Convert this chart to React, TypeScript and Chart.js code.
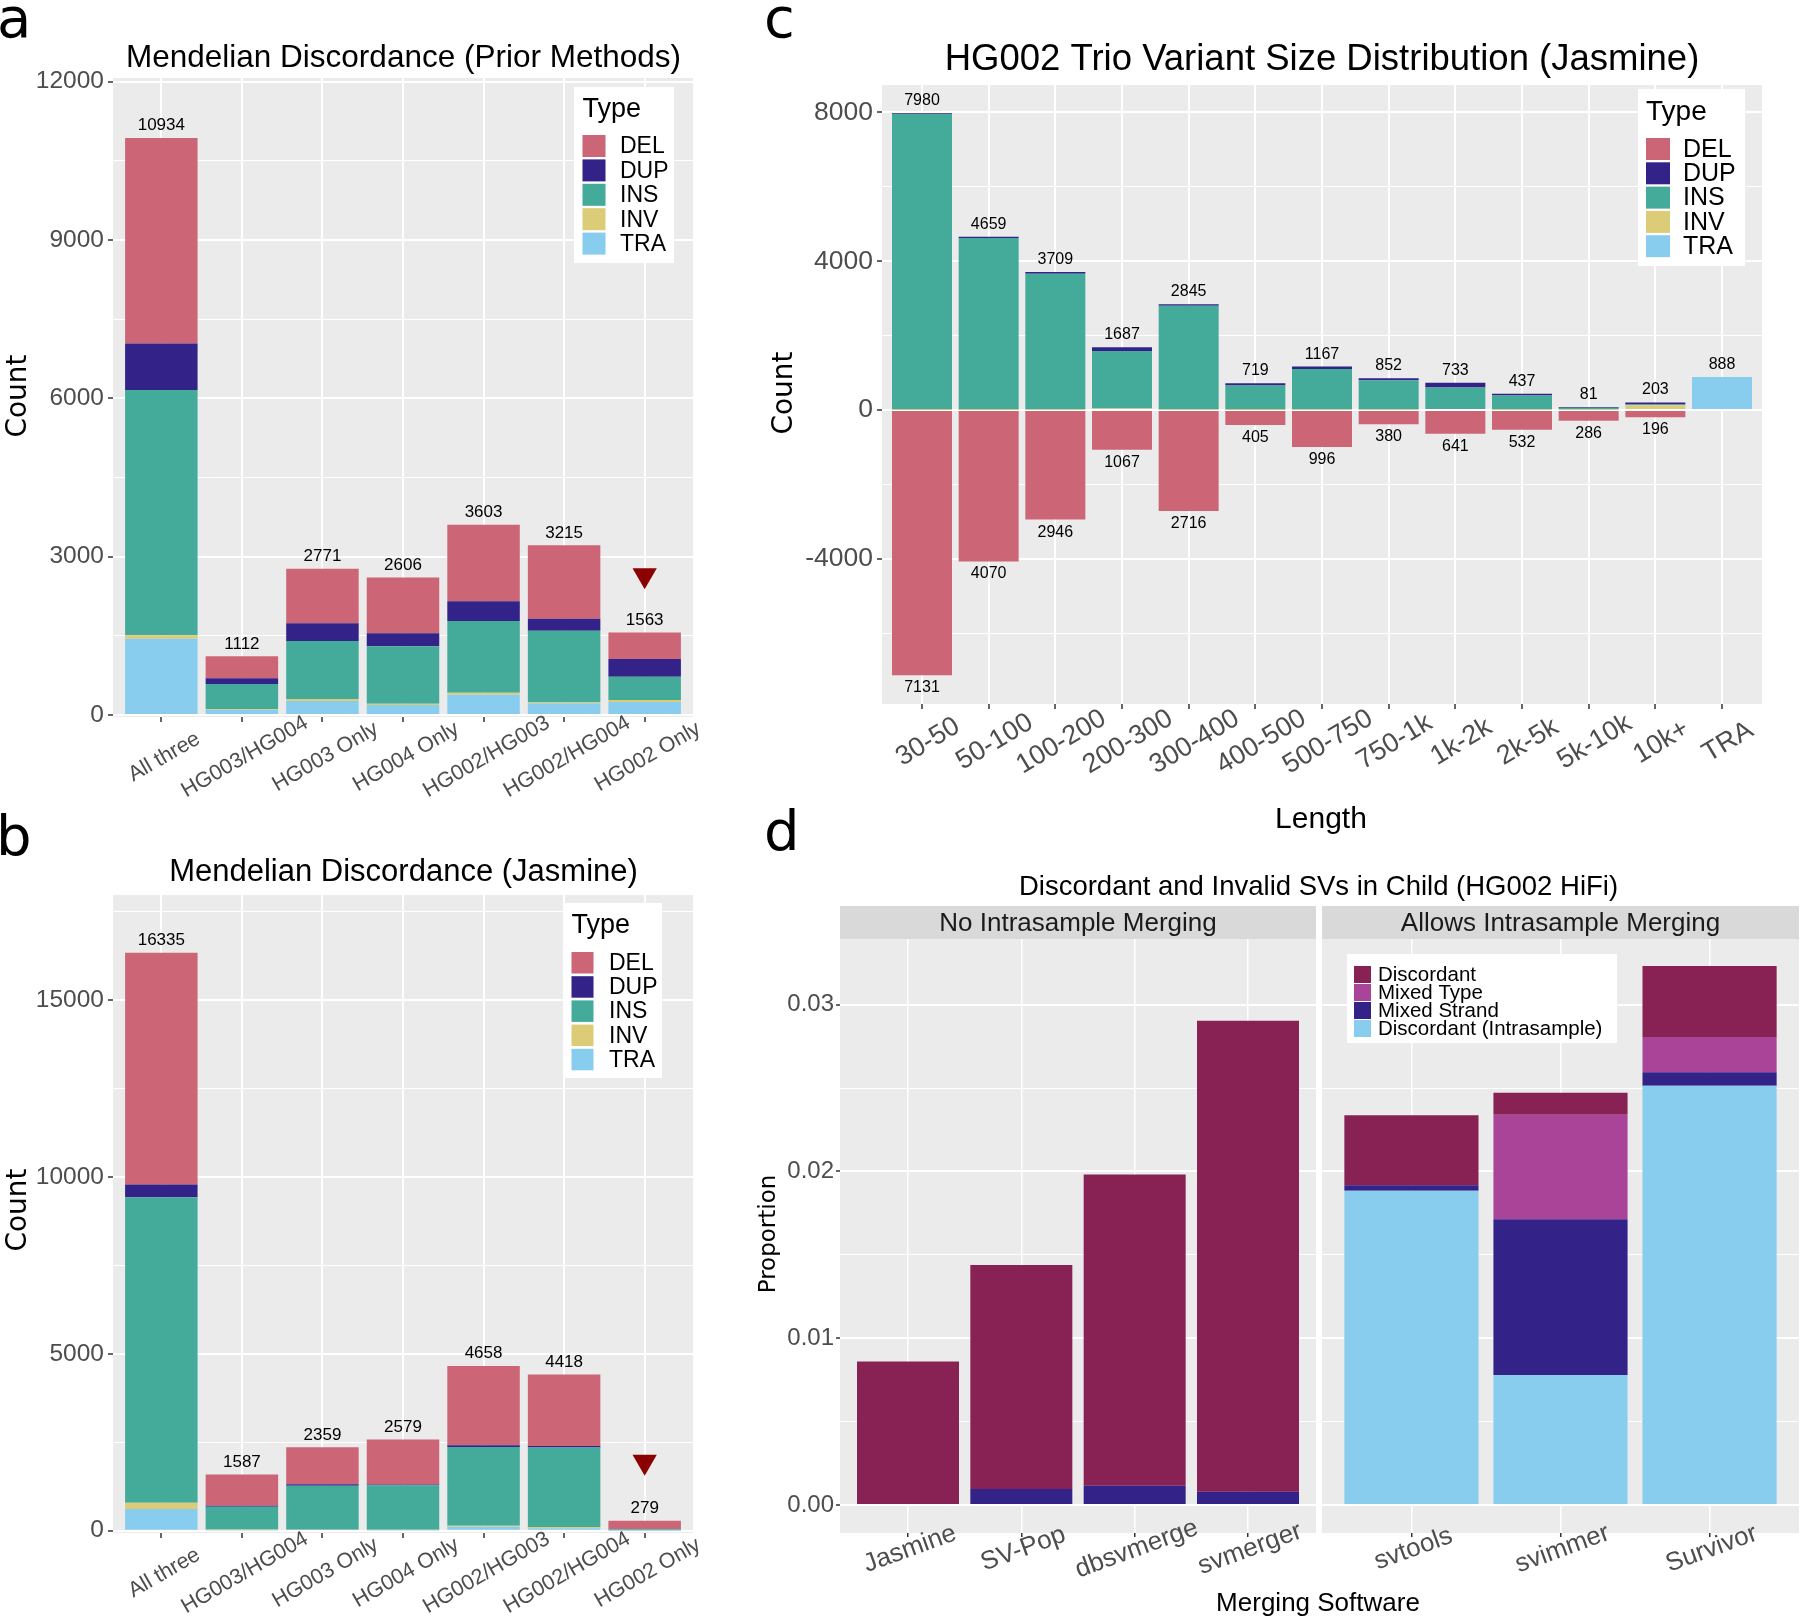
import { useEffect, useRef } from 'react';
import { Chart, registerables } from 'chart.js';

Chart.register(...registerables);

// ---------------- data ----------------
const mendelianCategories = ['All three', 'HG003/HG004', 'HG003 Only', 'HG004 Only', 'HG002/HG003', 'HG002/HG004', 'HG002 Only'];
const typeLabels = ['DEL', 'DUP', 'INS', 'INV', 'TRA'];
const typeColors = ['#CC6677', '#332288', '#44AA99', '#DDCC77', '#88CCEE'];

// panel a: Mendelian discordance (prior methods)
const priorDEL = [3897, 417, 1034, 1059, 1449, 1390, 502];
const priorDUP = [878, 108, 335, 246, 373, 227, 335];
const priorINS = [4649, 480, 1099, 1086, 1358, 1352, 442];
const priorINV = [64, 12, 38, 26, 38, 25, 38];
const priorTRA = [1446, 95, 265, 189, 385, 221, 246];
const priorFlagValue = 2650;

// panel b: Mendelian discordance (Jasmine)
const jasmineDEL = [6553, 879, 1048, 1276, 2243, 2022, 229];
const jasmineDUP = [359, 29, 37, 20, 47, 47, 10];
const jasmineINS = [8631, 644, 1244, 1253, 2226, 2245, 30];
const jasmineINV = [179, 25, 10, 15, 29, 38, 5];
const jasmineTRA = [613, 10, 20, 15, 113, 66, 5];
const jasmineFlagValue = 1950;
const flaggedCategoryIndex = 6;

// panel c: size distribution
const sizeCategories = ['30-50', '50-100', '100-200', '200-300', '300-400', '400-500', '500-750', '750-1k', '1k-2k', '2k-5k', '5k-10k', '10k+', 'TRA'];
const sizeDEL = [-7131, -4070, -2946, -1067, -2716, -405, -996, -380, -641, -532, -286, -196, 0];
const sizeDUP = [20, 35, 45, 100, 45, 58, 65, 55, 125, 45, 20, 55, 0];
const sizeINS = [7950, 4615, 3650, 1545, 2785, 652, 1090, 785, 580, 375, 45, 20, 0];
const sizeINV = [10, 9, 14, 42, 15, 9, 12, 12, 28, 17, 16, 128, 0];
const sizeTRA = [0, 0, 0, 0, 0, 0, 0, 0, 0, 0, 0, 0, 888];

// panel d: discordant / invalid SVs
const mergerGroups = ['No Intrasample Merging', 'Allows Intrasample Merging'];
const mergerLeft = ['Jasmine', 'SV-Pop', 'dbsvmerge', 'svmerger'];
const mergerRight = ['svtools', 'svimmer', 'Survivor'];
const errorLabels = ['Discordant', 'Mixed Type', 'Mixed Strand', 'Discordant (Intrasample)'];
const errorColors = ['#882255', '#AA4499', '#332288', '#88CCEE'];
const leftDiscordant = [0.0086, 0.01343, 0.01866, 0.02823];
const leftMixedType = [0, 0, 0, 0];
const leftMixedStrand = [0, 0.00096, 0.00116, 0.0008];
const leftIntrasample = [0, 0, 0, 0];
const rightDiscordant = [0.00419, 0.00132, 0.00425];
const rightMixedType = [0, 0.00627, 0.00212];
const rightMixedStrand = [0.00033, 0.00934, 0.0008];
const rightIntrasample = [0.01884, 0.00779, 0.02514];

// axis ticks
const priorTicksMajor = [0, 3000, 6000, 9000, 12000];
const priorTicksMinor = [1500, 4500, 7500, 10500];
const jasmineTicksMajor = [0, 5000, 10000, 15000];
const jasmineTicksMinor = [2500, 7500, 12500, 17500];
const sizeTicksMajor = [-4000, 0, 4000, 8000];
const sizeTicksMinor = [-6000, -2000, 2000, 6000];
const propTicksMajor = [0, 0.01, 0.02, 0.03];
const propTicksMinor = [0.005, 0.015, 0.025];

// ---------------- styling / layout ----------------
const SANS = '"Liberation Sans", Arial, Helvetica, sans-serif';
const DEJAVU = '"DejaVu Sans", Verdana, sans-serif';
const PAGE_W = 1800;
const PAGE_H = 1618;
const AXIS_H = 10;
const PANEL_BG = '#EBEBEB';
const AXIS_TEXT = '#4D4D4D';
const FLAG_COLOR = '#8B0000';

type Area = { l: number; r: number; t: number; b: number };

function layoutPadding(a: Area) {
  // the y scale box takes the whole width left of the plot area
  return { left: 0, right: PAGE_W - a.r, top: a.t, bottom: PAGE_H - a.b - AXIS_H };
}

function isIn(list: number[], v: number) {
  return list.some((m) => Math.abs(m - v) < 1e-9);
}

type TextOpts = {
  size: number;
  family?: string;
  color?: string;
  align?: CanvasTextAlign;
  baseline?: CanvasTextBaseline;
  rotate?: number;
};

function txt(ctx: CanvasRenderingContext2D, s: string, x: number, y: number, o: TextOpts) {
  ctx.save();
  ctx.translate(x, y);
  if (o.rotate) ctx.rotate(o.rotate);
  ctx.font = `${o.size}px ${o.family || SANS}`;
  ctx.fillStyle = o.color || '#000000';
  ctx.textAlign = o.align || 'center';
  ctx.textBaseline = o.baseline || 'alphabetic';
  ctx.fillText(s, 0, 0);
  ctx.restore();
}

type LegendSpec = {
  box: [number, number, number, number];
  title?: { text: string; x: number; y: number; size: number };
  keyX: number;
  keyTop: number;
  keyW: number;
  keyH: number;
  pitch: number;
  labelX: number;
  labelSize: number;
};

function drawLegend(ctx: CanvasRenderingContext2D, spec: LegendSpec, labels: string[], colors: string[]) {
  ctx.save();
  ctx.fillStyle = '#FFFFFF';
  ctx.fillRect(spec.box[0], spec.box[1], spec.box[2], spec.box[3]);
  ctx.restore();
  if (spec.title) txt(ctx, spec.title.text, spec.title.x, spec.title.y, { size: spec.title.size, align: 'left' });
  labels.forEach((lab, k) => {
    const top = spec.keyTop + k * spec.pitch;
    ctx.save();
    ctx.fillStyle = colors[k];
    ctx.fillRect(spec.keyX, top, spec.keyW, spec.keyH);
    ctx.restore();
    txt(ctx, lab, spec.labelX, top + spec.keyH / 2 + 1, { size: spec.labelSize, align: 'left', baseline: 'middle' });
  });
}

function drawCategoryLabels(chart: any, labels: string[], dx: number, dy: number, angleDeg: number, size: number) {
  const ctx = chart.ctx as CanvasRenderingContext2D;
  const xs = chart.scales.x;
  const bottom = chart.chartArea.bottom;
  labels.forEach((lab, i) => {
    txt(ctx, lab, xs.getPixelForValue(i) + dx, bottom + dy, {
      size,
      color: AXIS_TEXT,
      align: 'center',
      baseline: 'middle',
      rotate: (-angleDeg * Math.PI) / 180,
    });
  });
}

const panelBackground = {
  id: 'panelBackground',
  beforeDraw(chart: any) {
    const { ctx, chartArea: a } = chart;
    ctx.save();
    ctx.fillStyle = PANEL_BG;
    ctx.fillRect(a.left, a.top, a.right - a.left, a.bottom - a.top);
    ctx.restore();
  },
};

function yScale(o: {
  area: Area;
  min: number;
  max: number;
  majors: number[];
  minors: number[];
  fmt: (v: number) => string;
  fontSize: number;
  tickLength: number;
  padding: number;
  showLabels: boolean;
}) {
  const all = [...o.minors, ...o.majors].sort((a, b) => a - b);
  return {
    type: 'linear',
    stacked: true,
    min: o.min,
    max: o.max,
    bounds: 'data',
    beginAtZero: false,
    afterBuildTicks: (s: any) => {
      s.ticks = all.map((v) => ({ value: v }));
    },
    afterFit: (s: any) => {
      s.width = o.area.l;
    },
    ticks: {
      display: o.showLabels,
      autoSkip: false,
      padding: o.padding,
      color: AXIS_TEXT,
      font: { family: SANS, size: o.fontSize },
      callback: (v: any) => (isIn(o.majors, Number(v)) ? o.fmt(Number(v)) : ''),
    },
    grid: {
      display: true,
      drawOnChartArea: true,
      drawTicks: o.showLabels,
      tickLength: o.tickLength,
      color: '#FFFFFF',
      lineWidth: (c: any) => (c.tick && isIn(o.majors, c.tick.value) ? 2 : 1),
      tickColor: (c: any) => (c.tick && isIn(o.majors, c.tick.value) ? '#333333' : 'rgba(0,0,0,0)'),
      tickWidth: 1.5,
    },
    border: { display: false },
  };
}

function xScale(n: number, tickLength: number, gridWidth: number) {
  const idx = Array.from({ length: n }, (_, i) => i);
  return {
    type: 'linear',
    stacked: true,
    min: -0.6,
    max: n - 0.4,
    offset: false,
    bounds: 'data',
    afterBuildTicks: (s: any) => {
      s.ticks = idx.map((v) => ({ value: v }));
    },
    afterFit: (s: any) => {
      s.height = AXIS_H;
    },
    ticks: { display: false, autoSkip: false },
    grid: {
      display: true,
      offset: false,
      color: '#FFFFFF',
      lineWidth: gridWidth,
      drawTicks: true,
      tickLength,
      tickColor: '#333333',
      tickWidth: 1.5,
    },
    border: { display: false },
  };
}

function barSet(label: string, values: number[], color: string) {
  return {
    type: 'bar',
    label,
    data: values.map((v, i) => ({ x: i, y: v })),
    backgroundColor: color,
    borderWidth: 0,
    categoryPercentage: 0.9,
    barPercentage: 1,
    stack: 'bars',
  };
}

function baseOptions(area: Area, scales: any) {
  return {
    responsive: false,
    animation: false,
    devicePixelRatio: 1,
    events: [],
    layout: { padding: layoutPadding(area) },
    plugins: { legend: { display: false }, tooltip: { enabled: false }, title: { display: false } },
    scales,
  };
}

// ---------------- panel a / b ----------------
type MendelianParams = {
  id: string;
  area: Area;
  min: number;
  max: number;
  majors: number[];
  minors: number[];
  del: number[];
  dup: number[];
  ins: number[];
  inv: number[];
  tra: number[];
  flag: number;
  title: string;
  titleY: number;
  titleSize: number;
  letter: string;
  letterX: number;
  letterY: number;
  countY: number;
  legend: LegendSpec;
};

function buildMendelian(canvas: HTMLCanvasElement, p: MendelianParams) {
  const byType = [p.del, p.dup, p.ins, p.inv, p.tra];
  const datasets: any[] = [];
  for (let k = byType.length - 1; k >= 0; k--) datasets.push(barSet(typeLabels[k], byType[k], typeColors[k]));
  datasets.push({
    type: 'scatter',
    label: 'flag',
    data: [{ x: flaggedCategoryIndex, y: p.flag }],
    pointStyle: 'triangle',
    pointRotation: 180,
    rotation: 180,
    pointRadius: 14,
    radius: 14,
    pointBackgroundColor: FLAG_COLOR,
    backgroundColor: FLAG_COLOR,
    pointBorderWidth: 0,
    borderWidth: 0,
    stack: 'flag',
  });
  const totals = mendelianCategories.map((_, i) => byType.reduce((s, arr) => s + arr[i], 0));
  const overlay = {
    id: 'overlay_' + p.id,
    afterDraw(chart: any) {
      const ctx = chart.ctx as CanvasRenderingContext2D;
      const xs = chart.scales.x;
      const ys = chart.scales.y;
      totals.forEach((t, i) => {
        txt(ctx, String(t), xs.getPixelForValue(i), ys.getPixelForValue(t) - 7.5, { size: 17 });
      });
      drawCategoryLabels(chart, mendelianCategories, 3, 40, 30, 21.5);
      txt(ctx, p.title, (p.area.l + p.area.r) / 2 + 0.5, p.titleY, { size: p.titleSize });
      txt(ctx, p.letter, p.letterX, p.letterY, { size: 56, family: DEJAVU, align: 'left' });
      txt(ctx, 'Count', 26, p.countY, { size: 28, family: DEJAVU, rotate: -Math.PI / 2 });
      drawLegend(ctx, p.legend, typeLabels, typeColors);
    },
  };
  return new Chart(canvas, {
    type: 'bar',
    data: { datasets },
    options: baseOptions(p.area, {
      x: xScale(mendelianCategories.length, 5, 2),
      y: yScale({
        area: p.area,
        min: p.min,
        max: p.max,
        majors: p.majors,
        minors: p.minors,
        fmt: (v) => String(v),
        fontSize: 24.5,
        tickLength: 5,
        padding: 4,
        showLabels: true,
      }),
    }),
    plugins: [panelBackground, overlay],
  } as any);
}

const panelA: MendelianParams = {
  id: 'a',
  area: { l: 113, r: 693, t: 78, b: 717 },
  min: -38,
  max: 12070,
  majors: priorTicksMajor,
  minors: priorTicksMinor,
  del: priorDEL,
  dup: priorDUP,
  ins: priorINS,
  inv: priorINV,
  tra: priorTRA,
  flag: priorFlagValue,
  title: 'Mendelian Discordance (Prior Methods)',
  titleY: 67,
  titleSize: 31.5,
  letter: 'a',
  letterX: -3,
  letterY: 37,
  countY: 396,
  legend: {
    box: [574, 87, 100, 176],
    title: { text: 'Type', x: 582.5, y: 117, size: 27 },
    keyX: 582.5,
    keyTop: 135,
    keyW: 23,
    keyH: 22,
    pitch: 24.4,
    labelX: 620,
    labelSize: 23,
  },
};

const panelB: MendelianParams = {
  id: 'b',
  area: { l: 113, r: 693, t: 895, b: 1533 },
  min: -65,
  max: 17968,
  majors: jasmineTicksMajor,
  minors: jasmineTicksMinor,
  del: jasmineDEL,
  dup: jasmineDUP,
  ins: jasmineINS,
  inv: jasmineINV,
  tra: jasmineTRA,
  flag: jasmineFlagValue,
  title: 'Mendelian Discordance (Jasmine)',
  titleY: 881,
  titleSize: 31,
  letter: 'b',
  letterX: -4,
  letterY: 855,
  countY: 1210,
  legend: {
    box: [563, 903, 99, 175],
    title: { text: 'Type', x: 571.5, y: 933, size: 27 },
    keyX: 571.5,
    keyTop: 952,
    keyW: 22,
    keyH: 21.5,
    pitch: 24.2,
    labelX: 609,
    labelSize: 23,
  },
};

// ---------------- panel c ----------------
function buildSize(canvas: HTMLCanvasElement) {
  const area: Area = { l: 882, r: 1762, t: 85, b: 704 };
  const datasets = [
    barSet('TRA', sizeTRA, typeColors[4]),
    barSet('INV', sizeINV, typeColors[3]),
    barSet('INS', sizeINS, typeColors[2]),
    barSet('DUP', sizeDUP, typeColors[1]),
    barSet('DEL', sizeDEL, typeColors[0]),
  ];
  const posTotals = sizeCategories.map((_, i) => sizeTRA[i] + sizeINV[i] + sizeINS[i] + sizeDUP[i]);
  const negTotals = sizeCategories.map((_, i) => sizeDEL[i]);
  const legend: LegendSpec = {
    box: [1638, 89, 107, 177],
    title: { text: 'Type', x: 1646, y: 120, size: 28 },
    keyX: 1646,
    keyTop: 138,
    keyW: 24,
    keyH: 22,
    pitch: 24.3,
    labelX: 1683,
    labelSize: 25,
  };
  const overlay = {
    id: 'overlay_c',
    afterDraw(chart: any) {
      const ctx = chart.ctx as CanvasRenderingContext2D;
      const xs = chart.scales.x;
      const ys = chart.scales.y;
      posTotals.forEach((t, i) => {
        if (t > 0) txt(ctx, String(t), xs.getPixelForValue(i), ys.getPixelForValue(t) - 8, { size: 16 });
      });
      negTotals.forEach((t, i) => {
        if (t < 0) txt(ctx, String(Math.abs(t)), xs.getPixelForValue(i), ys.getPixelForValue(t) + 17, { size: 16 });
      });
      drawCategoryLabels(chart, sizeCategories, 6, 38, 31, 27);
      txt(ctx, 'HG002 Trio Variant Size Distribution (Jasmine)', 1322, 70, { size: 36.5 });
      txt(ctx, 'c', 764, 37, { size: 56, family: DEJAVU, align: 'left' });
      txt(ctx, 'Count', 792, 393, { size: 28, family: DEJAVU, rotate: -Math.PI / 2 });
      txt(ctx, 'Length', 1321, 828, { size: 30 });
      drawLegend(ctx, legend, typeLabels, typeColors);
    },
  };
  return new Chart(canvas, {
    type: 'bar',
    data: { datasets },
    options: baseOptions(area, {
      x: xScale(sizeCategories.length, 5, 2),
      y: yScale({
        area,
        min: -7903,
        max: 8737,
        majors: sizeTicksMajor,
        minors: sizeTicksMinor,
        fmt: (v) => String(v),
        fontSize: 26.5,
        tickLength: 5,
        padding: 4,
        showLabels: true,
      }),
    }),
    plugins: [panelBackground, overlay],
  } as any);
}

// ---------------- panel d ----------------
function buildMerger(canvas: HTMLCanvasElement, side: 'left' | 'right') {
  const isLeft = side === 'left';
  const area: Area = isLeft ? { l: 840, r: 1316, t: 939, b: 1533 } : { l: 1322, r: 1799, t: 939, b: 1533 };
  const cats = isLeft ? mergerLeft : mergerRight;
  const discordant = isLeft ? leftDiscordant : rightDiscordant;
  const mixedType = isLeft ? leftMixedType : rightMixedType;
  const mixedStrand = isLeft ? leftMixedStrand : rightMixedStrand;
  const intrasample = isLeft ? leftIntrasample : rightIntrasample;
  const datasets = [
    barSet(errorLabels[3], intrasample, errorColors[3]),
    barSet(errorLabels[2], mixedStrand, errorColors[2]),
    barSet(errorLabels[1], mixedType, errorColors[1]),
    barSet(errorLabels[0], discordant, errorColors[0]),
  ];
  const legend: LegendSpec = {
    box: [1347, 954, 270, 89],
    keyX: 1354,
    keyTop: 966,
    keyW: 17,
    keyH: 17,
    pitch: 18,
    labelX: 1378,
    labelSize: 20.5,
  };
  const overlay = {
    id: 'overlay_d_' + side,
    afterDraw(chart: any) {
      const ctx = chart.ctx as CanvasRenderingContext2D;
      ctx.save();
      ctx.fillStyle = '#D9D9D9';
      ctx.fillRect(area.l, 906, area.r - area.l, 33);
      ctx.restore();
      txt(ctx, isLeft ? mergerGroups[0] : mergerGroups[1], (area.l + area.r) / 2, 931, { size: 26, color: '#1A1A1A' });
      drawCategoryLabels(chart, cats, 2, 16, 20, 26);
      if (isLeft) {
        txt(ctx, 'Discordant and Invalid SVs in Child (HG002 HiFi)', 1318.5, 895, { size: 27.5 });
        txt(ctx, 'd', 764, 850, { size: 56, family: DEJAVU, align: 'left' });
        txt(ctx, 'Proportion', 775, 1234, { size: 23, family: DEJAVU, rotate: -Math.PI / 2 });
        txt(ctx, 'Merging Software', 1318, 1611, { size: 26 });
      } else {
        drawLegend(ctx, legend, errorLabels, errorColors);
      }
    },
  };
  return new Chart(canvas, {
    type: 'bar',
    data: { datasets },
    options: baseOptions(area, {
      x: xScale(cats.length, 4, 1.5),
      y: yScale({
        area,
        min: -0.0016787,
        max: 0.033933,
        majors: propTicksMajor,
        minors: propTicksMinor,
        fmt: (v) => v.toFixed(2),
        fontSize: 24,
        tickLength: 4,
        padding: 2,
        showLabels: isLeft,
      }),
    }),
    plugins: [panelBackground, overlay],
  } as any);
}

// ---------------- component ----------------
export default function App() {
  const aRef = useRef<HTMLCanvasElement>(null);
  const bRef = useRef<HTMLCanvasElement>(null);
  const cRef = useRef<HTMLCanvasElement>(null);
  const dlRef = useRef<HTMLCanvasElement>(null);
  const drRef = useRef<HTMLCanvasElement>(null);

  useEffect(() => {
    const charts: Chart[] = [];
    if (aRef.current) charts.push(buildMendelian(aRef.current, panelA));
    if (bRef.current) charts.push(buildMendelian(bRef.current, panelB));
    if (cRef.current) charts.push(buildSize(cRef.current));
    if (dlRef.current) charts.push(buildMerger(dlRef.current, 'left'));
    if (drRef.current) charts.push(buildMerger(drRef.current, 'right'));
    return () => {
      charts.forEach((c) => c.destroy());
    };
  }, []);

  const canvasStyle = {
    position: 'absolute' as const,
    left: 0,
    top: 0,
    width: PAGE_W + 'px',
    height: PAGE_H + 'px',
  };

  return (
    <div
      style={{
        position: 'absolute',
        left: 0,
        top: 0,
        width: PAGE_W,
        height: PAGE_H,
        background: '#FFFFFF',
        overflow: 'hidden',
      }}
    >
      <canvas ref={aRef} width={PAGE_W} height={PAGE_H} style={canvasStyle} />
      <canvas ref={bRef} width={PAGE_W} height={PAGE_H} style={canvasStyle} />
      <canvas ref={cRef} width={PAGE_W} height={PAGE_H} style={canvasStyle} />
      <canvas ref={dlRef} width={PAGE_W} height={PAGE_H} style={canvasStyle} />
      <canvas ref={drRef} width={PAGE_W} height={PAGE_H} style={canvasStyle} />
    </div>
  );
}
